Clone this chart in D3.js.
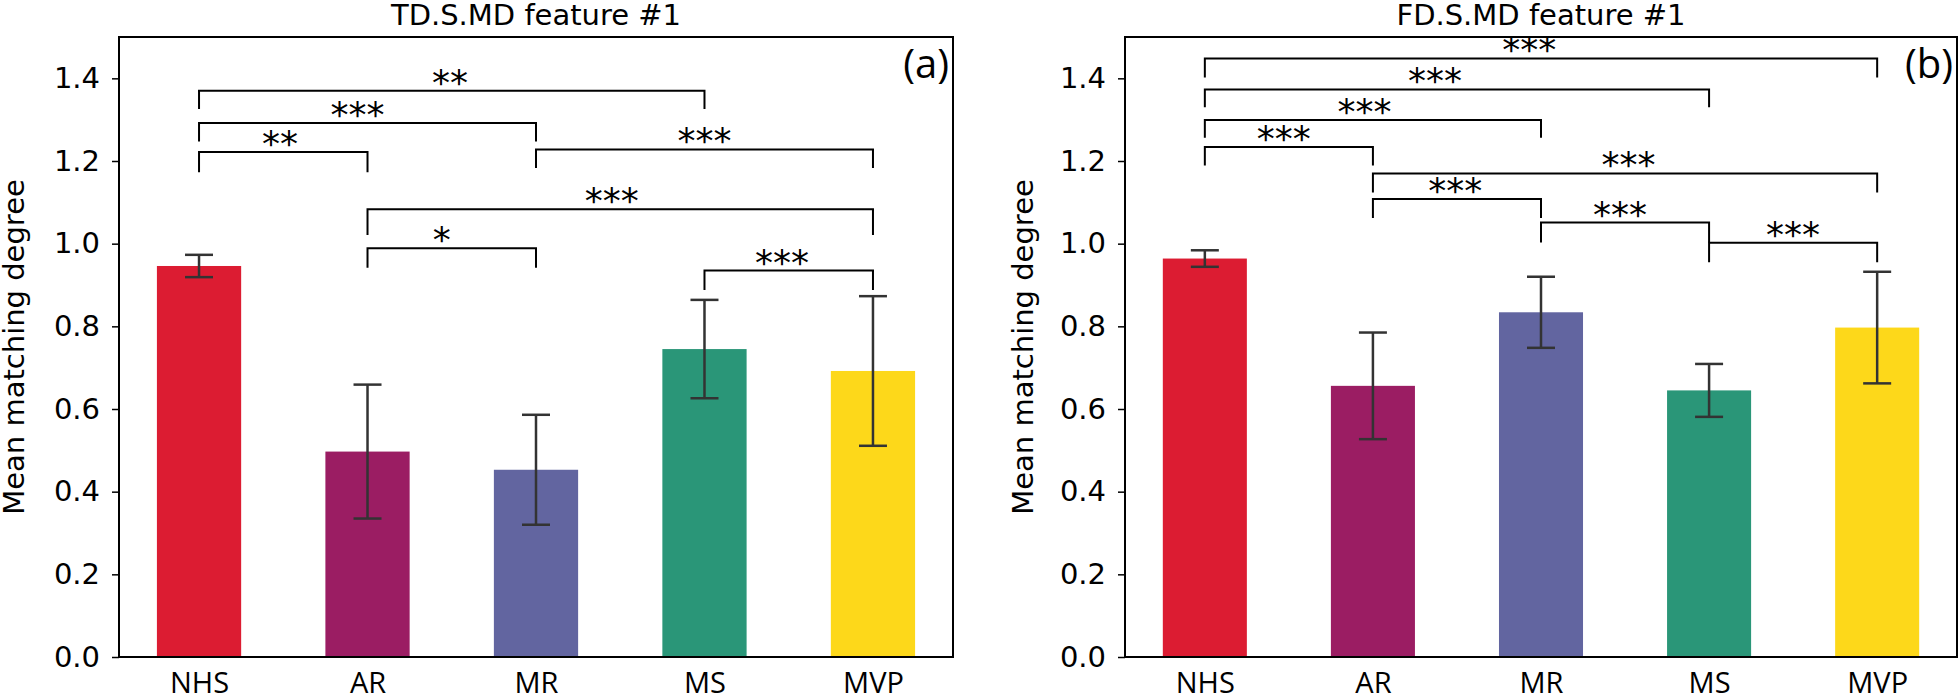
<!DOCTYPE html>
<html>
<head>
<meta charset="utf-8">
<script src="https://cdn.jsdelivr.net/npm/d3@7"></script>
<style>
  html, body { margin: 0; padding: 0; background: #fff; }
  svg { display: block; }
</style>
</head>
<body>
<svg id="chart" width="1958" height="700"></svg>
<script>
// data
var categories = ["NHS", "AR", "MR", "MS", "MVP"];
var colors = ["#dc1c32", "#9b1d63", "#6265a0", "#2a9678", "#fdd81a"];
var yTicks = [0.0, 0.2, 0.4, 0.6, 0.8, 1.0, 1.2, 1.4];

// panel (a)
var meanA = [0.946, 0.497, 0.453, 0.745, 0.692];
var errA = [0.027, 0.162, 0.133, 0.119, 0.181];
// [from, to, bracket top, leg end, label x, label]
var sigA = [
  [0, 3, 1.370, 1.326, 1.49, "**"],
  [0, 2, 1.292, 1.247, 0.94, "***"],
  [0, 1, 1.222, 1.173, 0.48, "**"],
  [2, 4, 1.228, 1.183, 3.00, "***"],
  [1, 4, 1.083, 1.021, 2.45, "***"],
  [1, 2, 0.989, 0.942, 1.44, "*"],
  [3, 4, 0.935, 0.888, 3.46, "***"]
];

// panel (b)
var meanB = [0.964, 0.656, 0.834, 0.645, 0.797];
var errB = [0.020, 0.129, 0.086, 0.064, 0.135];
var sigB = [
  [0, 4, 1.448, 1.402, 1.93, "***"],
  [0, 3, 1.373, 1.330, 1.37, "***"],
  [0, 2, 1.299, 1.256, 0.95, "***"],
  [0, 1, 1.234, 1.189, 0.47, "***"],
  [1, 4, 1.170, 1.124, 2.52, "***"],
  [1, 2, 1.108, 1.062, 1.49, "***"],
  [2, 3, 1.051, 1.003, 2.47, "***"],
  [3, 4, 1.002, 0.955, 3.50, "***"]
];

var svg = d3.select("#chart");
var dejavu = "'DejaVu Sans', sans-serif";
var opensans = "'Open Sans', sans-serif";

function drawPanel(opt) {
  var left = opt.left, right = opt.right, top = 37, bottom = 657;
  var x = d3.scaleLinear().domain([-0.475, 4.475]).range([left, right]);
  var y = d3.scaleLinear().domain([0, 1.5]).range([bottom, top]);
  var g = svg.append("g");

  // bars
  var barW = x(0.25) - x(-0.25);
  g.append("g").selectAll("rect").data(opt.mean)
    .enter().append("rect")
    .attr("x", function (d, i) { return x(i) - barW / 2; })
    .attr("y", function (d) { return y(d); })
    .attr("width", barW)
    .attr("height", function (d) { return bottom - y(d); })
    .attr("fill", function (d, i) { return colors[i]; });

  // error bars
  var eb = g.append("g").attr("stroke", "#333").attr("stroke-width", 2.5);
  opt.mean.forEach(function (m, i) {
    var cx = x(i);
    eb.append("line").attr("x1", cx).attr("x2", cx)
      .attr("y1", y(m - opt.err[i])).attr("y2", y(m + opt.err[i]));
    [m - opt.err[i], m + opt.err[i]].forEach(function (v) {
      eb.append("line").attr("x1", cx - 14).attr("x2", cx + 14)
        .attr("y1", y(v)).attr("y2", y(v));
    });
  });

  // significance brackets
  var sg = g.append("g");
  opt.sig.forEach(function (s) {
    sg.append("path")
      .attr("d", "M" + x(s[0]) + "," + y(s[3]) + "V" + y(s[2]) + "H" + x(s[1]) + "V" + y(s[3]))
      .attr("fill", "none").attr("stroke", "#000").attr("stroke-width", 2);
    sg.append("text")
      .attr("x", x(s[4])).attr("y", y(s[2]) + 4)
      .attr("text-anchor", "middle")
      .style("font-family", dejavu).style("font-size", "36px")
      .text(s[5]);
  });

  // y axis
  var ya = g.append("g").attr("transform", "translate(" + left + ",0)")
    .call(d3.axisLeft(y).tickValues(yTicks).tickFormat(d3.format(".1f")).tickSize(7).tickPadding(12));
  ya.select(".domain").remove();
  ya.selectAll("line").attr("stroke", "#000").attr("stroke-width", 1.5);
  ya.selectAll("text").style("font-family", dejavu).style("font-size", "29px").attr("fill", "#000");

  // x axis labels
  var xa = g.append("g").attr("transform", "translate(0," + bottom + ")")
    .call(d3.axisBottom(x).tickValues(d3.range(categories.length))
      .tickFormat(function (i) { return categories[i]; }).tickSize(0).tickPadding(15));
  xa.select(".domain").remove();
  xa.selectAll("text").style("font-family", opensans).style("font-size", "29px").attr("fill", "#000");

  // frame
  g.append("rect").attr("x", left).attr("y", top)
    .attr("width", right - left).attr("height", bottom - top)
    .attr("fill", "none").attr("stroke", "#000").attr("stroke-width", 2);

  // title, y label, panel tag
  g.append("text").attr("x", (left + right) / 2).attr("y", 25)
    .attr("text-anchor", "middle")
    .style("font-family", dejavu).style("font-size", "29px")
    .text(opt.title);
  g.append("text")
    .attr("transform", "translate(" + opt.ylabX + "," + (top + bottom) / 2 + ") rotate(-90)")
    .attr("text-anchor", "middle")
    .style("font-family", dejavu).style("font-size", "29px")
    .text("Mean matching degree");
  g.append("text").attr("x", right - 4).attr("y", 78)
    .attr("text-anchor", "end")
    .style("font-family", opensans).style("font-size", "40px")
    .text(opt.tag);
}

drawPanel({ left: 119, right: 953, mean: meanA, err: errA, sig: sigA,
  title: "TD.S.MD feature #1", tag: "(a)", ylabX: 24 });
drawPanel({ left: 1125, right: 1957, mean: meanB, err: errB, sig: sigB,
  title: "FD.S.MD feature #1", tag: "(b)", ylabX: 1033 });
</script>
</body>
</html>
